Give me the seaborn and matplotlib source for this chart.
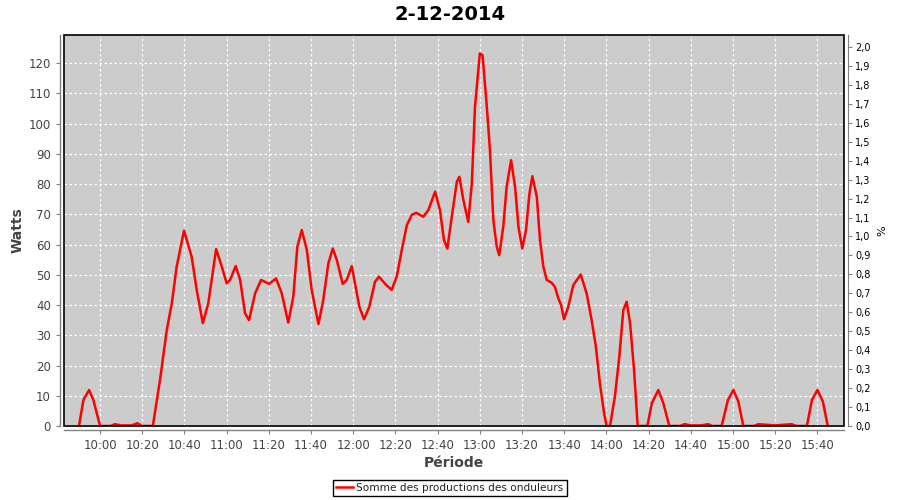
import numpy as np
import pandas as pd
import matplotlib
matplotlib.use('Agg')
import matplotlib.pyplot as plt
from matplotlib.patches import Rectangle
from matplotlib.ticker import FixedLocator, FuncFormatter
import seaborn as sns

# temps en minutes apres 10:00, puissance en watts
minutes = [-10, -7.9, -5.2, -3.2, 0, 5, 7, 10, 15, 17.7, 20, 25,
           28.4, 31.6, 34, 36.3, 39.8, 43.4, 45.8, 48.7, 51.3, 55,
           57.7, 60, 61.6, 64.3, 66.4, 68.7, 70.6, 73.5, 76.3, 80.1,
           83.4, 86.1, 89.2, 91.6, 93.5, 95.6, 98, 100.3, 103.5, 105.8,
           108.2, 110.3, 112.2, 115, 116.9, 119.3, 122.9, 125.1, 127.6, 130.3,
           132.2, 135.1, 138.2, 140.6, 143, 145.4, 147.7, 149.8, 153.2, 155.6,
           158.8, 161.1, 163, 164.6, 166.7, 169.1, 170.3, 172.2, 174.5, 176.2,
           177.7, 180, 181.3, 183.3, 184.8, 186.4, 188, 189.2, 191.1, 192.7,
           194.8, 196.7, 198.3, 200.1, 201.9, 203.5, 204.9, 207, 208.5, 210.1,
           211.7, 214, 215.6, 217.2, 218.5, 219.9, 221.9, 224.3, 227.8, 230.6,
           233, 235, 236.9, 238.9, 240.1, 241.7, 244, 246.1, 248, 249.6,
           251.2, 253.1, 254.8, 259.4, 261.5, 264.6, 267, 269.8, 274.9, 277,
           280, 285, 288.3, 290, 294.6, 297.6, 300.2, 302.5, 304.9, 310,
           312, 320, 327.8, 330, 335, 337.4, 340, 342.6, 344.9]
watts = [0, 8.6, 11.9, 8.6, 0, 0, 0.6, 0.2, 0.2, 0.9, 0, 0,
         15.2, 31.7, 40.6, 52.7, 64.6, 56, 45, 34, 40.6, 58.5,
         52.7, 47.2, 48.3, 52.9, 48.3, 37.3, 35, 43.9, 48.3, 47,
         48.8, 43.9, 34.2, 42.8, 59.3, 64.8, 58.2, 45, 33.7, 41.7,
         53.8, 58.7, 54.9, 47, 48.3, 52.9, 39.4, 35.3, 39.4, 47.7,
         49.4, 47, 45, 49.4, 58.2, 66.4, 69.8, 70.5, 69.2, 71.4,
         77.5, 71.4, 61.5, 58.7, 69.2, 80.8, 82.4, 74.7, 67.5, 80.2,
         105.6, 123.2, 122.6, 105.6, 91.2, 68.1, 59.3, 56.5, 65.9, 79.1,
         87.9, 79.1, 65.9, 58.7, 64.8, 76.9, 82.6, 75.8, 61.5, 52.7,
         48.3, 47.4, 46, 42.2, 40, 35.3, 39.4, 46.6, 50.1, 43.9,
         35, 26.2, 14.1, 4.2, 0, 0, 9.7, 22.9, 38.3, 41.1,
         34, 18.5, 0, 0, 7.5, 11.9, 7.5, 0, 0, 0.6,
         0.2, 0.2, 0.6, 0, 0, 8.6, 11.9, 8.1, 0, 0,
         0.6, 0.2, 0.6, 0, 0, 8.6, 11.9, 8.1, 0]

x_ticks = list(range(0, 341, 20))
x_labels = ['10:00', '10:20', '10:40', '11:00', '11:20', '11:40', '12:00', '12:20', '12:40',
            '13:00', '13:20', '13:40', '14:00', '14:20', '14:40', '15:00', '15:20', '15:40']
watt_ticks = list(range(0, 121, 10))
pct_ticks = [i / 10 for i in range(0, 21)]

df = pd.DataFrame({'minutes': minutes, 'watts': watts})

fig = plt.figure(figsize=(9, 5), dpi=100)
ax = fig.add_axes([64 / 900, 74 / 500, 780 / 900, 391 / 500])
ax.set_facecolor('#cccccc')

sns.lineplot(data=df, x='minutes', y='watts', ax=ax, color='#ff0000', linewidth=1.8,
             label='Somme des productions des onduleurs', zorder=3)

ax.set_xlim(-17.1, 352.6)
ax.set_ylim(0, 129.3)
ax.xaxis.set_major_locator(FixedLocator(x_ticks))
ax.set_xticklabels(x_labels)
ax.yaxis.set_major_locator(FixedLocator(watt_ticks))

ax.grid(True, color='white', linestyle=(0, (2, 2)), linewidth=0.9)
ax.set_axisbelow(True)

grey = '#808080'
for side in ['top', 'right']:
    ax.spines[side].set_visible(False)
for side in ['left', 'bottom']:
    ax.spines[side].set_position(('outward', 3))
    ax.spines[side].set_color(grey)
    ax.spines[side].set_linewidth(1)
ax.tick_params(axis='both', colors=grey, labelcolor='#444444', labelsize=8.5, length=3, width=0.8)

ax.set_xlabel('Période', fontsize=10, fontweight='bold', color='#444444', labelpad=3)
ax.set_ylabel('Watts', fontsize=10, fontweight='bold', color='#444444', labelpad=3)

# cadre noir autour de la zone de tracé
ax.add_patch(Rectangle((0, 0), 1, 1, transform=ax.transAxes, fill=False,
                       edgecolor='black', linewidth=1.2, clip_on=False, zorder=5))

# axe de droite en %
ax2 = ax.twinx()
ax2.set_ylim(0, 2.063)
ax2.yaxis.set_major_locator(FixedLocator(pct_ticks))
ax2.yaxis.set_major_formatter(FuncFormatter(lambda v, p: f'{v:.1f}'.replace('.', ',')))
for side in ['top', 'left', 'bottom']:
    ax2.spines[side].set_visible(False)
ax2.spines['right'].set_position(('outward', 3))
ax2.spines['right'].set_color(grey)
ax2.tick_params(axis='y', colors=grey, labelcolor='black', labelsize=7, length=3, width=0.8, pad=2)
ax2.set_ylabel('%', fontsize=8, color='black', labelpad=5)

fig.suptitle('2-12-2014', fontsize=14, fontweight='bold', y=0.972, va='center')

handles, labels = ax.get_legend_handles_labels()
ax.get_legend().remove()
leg = fig.legend(handles, labels, loc='center', bbox_to_anchor=(0.5, 0.024), fontsize=7.6,
                 frameon=True, fancybox=False, edgecolor='black', framealpha=1,
                 handlelength=1.6, handletextpad=0.3, borderpad=0.3, borderaxespad=0)
leg.get_frame().set_linewidth(1)
for t in leg.get_texts():
    t.set_color('#222222')

fig.savefig('out.png', dpi=100)
